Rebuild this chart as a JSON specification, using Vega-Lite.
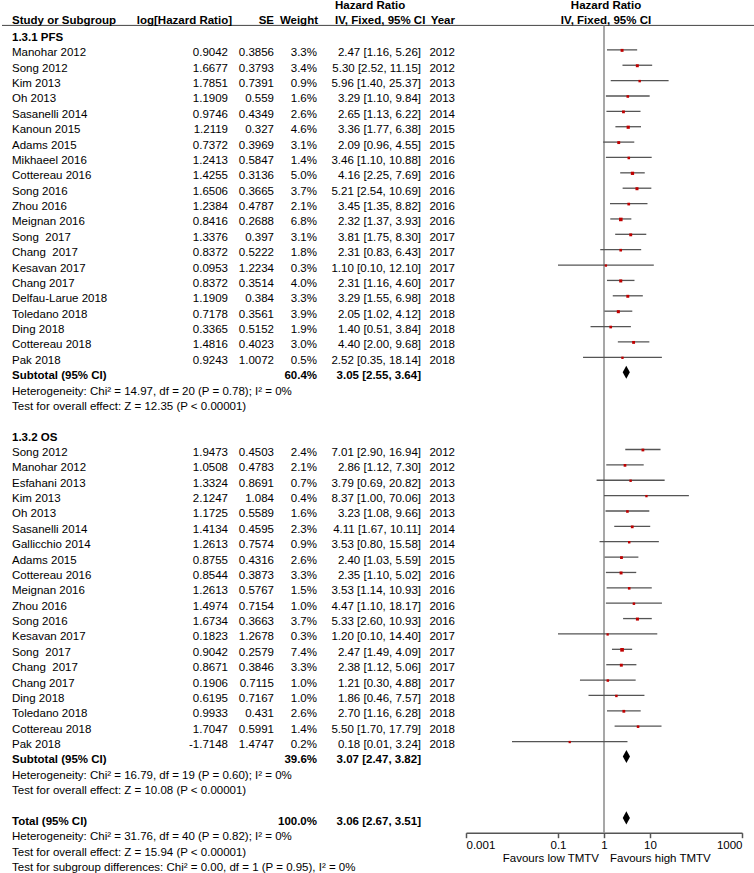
{
  "$schema": "https://vega.github.io/schema/vega-lite/v6.json",
  "width": 754,
  "height": 873,
  "autosize": {"type": "none"},
  "padding": 0,
  "background": "white",
  "config": {
    "view": {"stroke": null},
    "axisY": {"disable": true},
    "text": {"font": "Liberation Sans", "fontSize": 11.5, "baseline": "middle", "color": "#000"}
  },
  "data": {"values": [{}]},
  "datasets": {
    "studies": [
      {"group": "PFS", "row": 1, "study": "Manohar 2012", "loghr": 0.9042, "se": 0.3856, "w": 0.033, "hr": 2.47, "lo": 1.16, "hi": 5.26, "ci": "2.47 [1.16, 5.26]", "year": "2012"},
      {"group": "PFS", "row": 2, "study": "Song 2012", "loghr": 1.6677, "se": 0.3793, "w": 0.034, "hr": 5.30, "lo": 2.52, "hi": 11.15, "ci": "5.30 [2.52, 11.15]", "year": "2012"},
      {"group": "PFS", "row": 3, "study": "Kim 2013", "loghr": 1.7851, "se": 0.7391, "w": 0.009, "hr": 5.96, "lo": 1.40, "hi": 25.37, "ci": "5.96 [1.40, 25.37]", "year": "2013"},
      {"group": "PFS", "row": 4, "study": "Oh 2013", "loghr": 1.1909, "se": 0.559, "w": 0.016, "hr": 3.29, "lo": 1.10, "hi": 9.84, "ci": "3.29 [1.10, 9.84]", "year": "2013"},
      {"group": "PFS", "row": 5, "study": "Sasanelli 2014", "loghr": 0.9746, "se": 0.4349, "w": 0.026, "hr": 2.65, "lo": 1.13, "hi": 6.22, "ci": "2.65 [1.13, 6.22]", "year": "2014"},
      {"group": "PFS", "row": 6, "study": "Kanoun 2015", "loghr": 1.2119, "se": 0.327, "w": 0.046, "hr": 3.36, "lo": 1.77, "hi": 6.38, "ci": "3.36 [1.77, 6.38]", "year": "2015"},
      {"group": "PFS", "row": 7, "study": "Adams 2015", "loghr": 0.7372, "se": 0.3969, "w": 0.031, "hr": 2.09, "lo": 0.96, "hi": 4.55, "ci": "2.09 [0.96, 4.55]", "year": "2015"},
      {"group": "PFS", "row": 8, "study": "Mikhaeel 2016", "loghr": 1.2413, "se": 0.5847, "w": 0.014, "hr": 3.46, "lo": 1.10, "hi": 10.88, "ci": "3.46 [1.10, 10.88]", "year": "2016"},
      {"group": "PFS", "row": 9, "study": "Cottereau 2016", "loghr": 1.4255, "se": 0.3136, "w": 0.050, "hr": 4.16, "lo": 2.25, "hi": 7.69, "ci": "4.16 [2.25, 7.69]", "year": "2016"},
      {"group": "PFS", "row": 10, "study": "Song 2016", "loghr": 1.6506, "se": 0.3665, "w": 0.037, "hr": 5.21, "lo": 2.54, "hi": 10.69, "ci": "5.21 [2.54, 10.69]", "year": "2016"},
      {"group": "PFS", "row": 11, "study": "Zhou 2016", "loghr": 1.2384, "se": 0.4787, "w": 0.021, "hr": 3.45, "lo": 1.35, "hi": 8.82, "ci": "3.45 [1.35, 8.82]", "year": "2016"},
      {"group": "PFS", "row": 12, "study": "Meignan 2016", "loghr": 0.8416, "se": 0.2688, "w": 0.068, "hr": 2.32, "lo": 1.37, "hi": 3.93, "ci": "2.32 [1.37, 3.93]", "year": "2016"},
      {"group": "PFS", "row": 13, "study": "Song\u00a0 2017", "loghr": 1.3376, "se": 0.397, "w": 0.031, "hr": 3.81, "lo": 1.75, "hi": 8.30, "ci": "3.81 [1.75, 8.30]", "year": "2017"},
      {"group": "PFS", "row": 14, "study": "Chang\u00a0 2017", "loghr": 0.8372, "se": 0.5222, "w": 0.018, "hr": 2.31, "lo": 0.83, "hi": 6.43, "ci": "2.31 [0.83, 6.43]", "year": "2017"},
      {"group": "PFS", "row": 15, "study": "Kesavan 2017", "loghr": 0.0953, "se": 1.2234, "w": 0.003, "hr": 1.10, "lo": 0.10, "hi": 12.10, "ci": "1.10 [0.10, 12.10]", "year": "2017"},
      {"group": "PFS", "row": 16, "study": "Chang 2017", "loghr": 0.8372, "se": 0.3514, "w": 0.040, "hr": 2.31, "lo": 1.16, "hi": 4.60, "ci": "2.31 [1.16, 4.60]", "year": "2017"},
      {"group": "PFS", "row": 17, "study": "Delfau-Larue 2018", "loghr": 1.1909, "se": 0.384, "w": 0.033, "hr": 3.29, "lo": 1.55, "hi": 6.98, "ci": "3.29 [1.55, 6.98]", "year": "2018"},
      {"group": "PFS", "row": 18, "study": "Toledano 2018", "loghr": 0.7178, "se": 0.3561, "w": 0.039, "hr": 2.05, "lo": 1.02, "hi": 4.12, "ci": "2.05 [1.02, 4.12]", "year": "2018"},
      {"group": "PFS", "row": 19, "study": "Ding 2018", "loghr": 0.3365, "se": 0.5152, "w": 0.019, "hr": 1.40, "lo": 0.51, "hi": 3.84, "ci": "1.40 [0.51, 3.84]", "year": "2018"},
      {"group": "PFS", "row": 20, "study": "Cottereau 2018", "loghr": 1.4816, "se": 0.4023, "w": 0.030, "hr": 4.40, "lo": 2.00, "hi": 9.68, "ci": "4.40 [2.00, 9.68]", "year": "2018"},
      {"group": "PFS", "row": 21, "study": "Pak 2018", "loghr": 0.9243, "se": 1.0072, "w": 0.005, "hr": 2.52, "lo": 0.35, "hi": 18.14, "ci": "2.52 [0.35, 18.14]", "year": "2018"},
      {"group": "OS", "row": 27, "study": "Song 2012", "loghr": 1.9473, "se": 0.4503, "w": 0.024, "hr": 7.01, "lo": 2.90, "hi": 16.94, "ci": "7.01 [2.90, 16.94]", "year": "2012"},
      {"group": "OS", "row": 28, "study": "Manohar 2012", "loghr": 1.0508, "se": 0.4783, "w": 0.021, "hr": 2.86, "lo": 1.12, "hi": 7.30, "ci": "2.86 [1.12, 7.30]", "year": "2012"},
      {"group": "OS", "row": 29, "study": "Esfahani 2013", "loghr": 1.3324, "se": 0.8691, "w": 0.007, "hr": 3.79, "lo": 0.69, "hi": 20.82, "ci": "3.79 [0.69, 20.82]", "year": "2013"},
      {"group": "OS", "row": 30, "study": "Kim 2013", "loghr": 2.1247, "se": 1.084, "w": 0.004, "hr": 8.37, "lo": 1.00, "hi": 70.06, "ci": "8.37 [1.00, 70.06]", "year": "2013"},
      {"group": "OS", "row": 31, "study": "Oh 2013", "loghr": 1.1725, "se": 0.5589, "w": 0.016, "hr": 3.23, "lo": 1.08, "hi": 9.66, "ci": "3.23 [1.08, 9.66]", "year": "2013"},
      {"group": "OS", "row": 32, "study": "Sasanelli 2014", "loghr": 1.4134, "se": 0.4595, "w": 0.023, "hr": 4.11, "lo": 1.67, "hi": 10.11, "ci": "4.11 [1.67, 10.11]", "year": "2014"},
      {"group": "OS", "row": 33, "study": "Gallicchio 2014", "loghr": 1.2613, "se": 0.7574, "w": 0.009, "hr": 3.53, "lo": 0.80, "hi": 15.58, "ci": "3.53 [0.80, 15.58]", "year": "2014"},
      {"group": "OS", "row": 34, "study": "Adams 2015", "loghr": 0.8755, "se": 0.4316, "w": 0.026, "hr": 2.40, "lo": 1.03, "hi": 5.59, "ci": "2.40 [1.03, 5.59]", "year": "2015"},
      {"group": "OS", "row": 35, "study": "Cottereau 2016", "loghr": 0.8544, "se": 0.3873, "w": 0.033, "hr": 2.35, "lo": 1.10, "hi": 5.02, "ci": "2.35 [1.10, 5.02]", "year": "2016"},
      {"group": "OS", "row": 36, "study": "Meignan 2016", "loghr": 1.2613, "se": 0.5767, "w": 0.015, "hr": 3.53, "lo": 1.14, "hi": 10.93, "ci": "3.53 [1.14, 10.93]", "year": "2016"},
      {"group": "OS", "row": 37, "study": "Zhou 2016", "loghr": 1.4974, "se": 0.7154, "w": 0.010, "hr": 4.47, "lo": 1.10, "hi": 18.17, "ci": "4.47 [1.10, 18.17]", "year": "2016"},
      {"group": "OS", "row": 38, "study": "Song 2016", "loghr": 1.6734, "se": 0.3663, "w": 0.037, "hr": 5.33, "lo": 2.60, "hi": 10.93, "ci": "5.33 [2.60, 10.93]", "year": "2016"},
      {"group": "OS", "row": 39, "study": "Kesavan 2017", "loghr": 0.1823, "se": 1.2678, "w": 0.003, "hr": 1.20, "lo": 0.10, "hi": 14.40, "ci": "1.20 [0.10, 14.40]", "year": "2017"},
      {"group": "OS", "row": 40, "study": "Song\u00a0 2017", "loghr": 0.9042, "se": 0.2579, "w": 0.074, "hr": 2.47, "lo": 1.49, "hi": 4.09, "ci": "2.47 [1.49, 4.09]", "year": "2017"},
      {"group": "OS", "row": 41, "study": "Chang\u00a0 2017", "loghr": 0.8671, "se": 0.3846, "w": 0.033, "hr": 2.38, "lo": 1.12, "hi": 5.06, "ci": "2.38 [1.12, 5.06]", "year": "2017"},
      {"group": "OS", "row": 42, "study": "Chang 2017", "loghr": 0.1906, "se": 0.7115, "w": 0.010, "hr": 1.21, "lo": 0.30, "hi": 4.88, "ci": "1.21 [0.30, 4.88]", "year": "2017"},
      {"group": "OS", "row": 43, "study": "Ding 2018", "loghr": 0.6195, "se": 0.7167, "w": 0.010, "hr": 1.86, "lo": 0.46, "hi": 7.57, "ci": "1.86 [0.46, 7.57]", "year": "2018"},
      {"group": "OS", "row": 44, "study": "Toledano 2018", "loghr": 0.9933, "se": 0.431, "w": 0.026, "hr": 2.70, "lo": 1.16, "hi": 6.28, "ci": "2.70 [1.16, 6.28]", "year": "2018"},
      {"group": "OS", "row": 45, "study": "Cottereau 2018", "loghr": 1.7047, "se": 0.5991, "w": 0.014, "hr": 5.50, "lo": 1.70, "hi": 17.79, "ci": "5.50 [1.70, 17.79]", "year": "2018"},
      {"group": "OS", "row": 46, "study": "Pak 2018", "loghr": -1.7148, "se": 1.4747, "w": 0.002, "hr": 0.18, "lo": 0.01, "hi": 3.24, "ci": "0.18 [0.01, 3.24]", "year": "2018"}
    ],
    "totals": [
      {"row": 22, "label": "Subtotal (95% CI)", "w": 0.604, "hr": 3.05, "lo": 2.55, "hi": 3.64, "ci": "3.05 [2.55, 3.64]"},
      {"row": 47, "label": "Subtotal (95% CI)", "w": 0.396, "hr": 3.07, "lo": 2.47, "hi": 3.82, "ci": "3.07 [2.47, 3.82]"},
      {"row": 51, "label": "Total (95% CI)", "w": 1.0, "hr": 3.06, "lo": 2.67, "hi": 3.51, "ci": "3.06 [2.67, 3.51]"}
    ],
    "headings": [
      {"row": 0, "text": "1.3.1 PFS"},
      {"row": 26, "text": "1.3.2 OS"}
    ],
    "notes": [
      {"row": 23, "text": "Heterogeneity: Chi² = 14.97, df = 20 (P = 0.78); I² = 0%"},
      {"row": 24, "text": "Test for overall effect: Z = 12.35 (P < 0.00001)"},
      {"row": 48, "text": "Heterogeneity: Chi² = 16.79, df = 19 (P = 0.60); I² = 0%"},
      {"row": 49, "text": "Test for overall effect: Z = 10.08 (P < 0.00001)"},
      {"row": 52, "text": "Heterogeneity: Chi² = 31.76, df = 40 (P = 0.82); I² = 0%"},
      {"row": 53, "text": "Test for overall effect: Z = 15.94 (P < 0.00001)"},
      {"row": 54, "text": "Test for subgroup differences: Chi² = 0.00, df = 1 (P = 0.95), I² = 0%"}
    ]
  },
  "layer": [
    {
      "mark": {"type": "rule", "color": "#444", "strokeWidth": 1},
      "encoding": {
        "x": {"value": 2},
        "x2": {"value": 754},
        "y": {"datum": -0.82, "type": "quantitative", "scale": {"domain": [0, 54], "range": [38, 868], "zero": false, "nice": false}}
      }
    },
    {
      "mark": {"type": "rule", "color": "#8a8a8a", "strokeWidth": 1.5},
      "encoding": {
        "x": {"datum": 1, "type": "quantitative", "title": null, "scale": {"type": "log", "domain": [0.001, 1000], "range": [466, 742]},
          "axis": {"values": [0.001, 0.1, 1, 10, 1000], "format": "~g", "offset": -40.3, "grid": false, "tickSize": 5, "labelPadding": 2, "domainColor": "#555", "tickColor": "#555", "domainWidth": 1.5, "tickWidth": 1.5, "labelFont": "Liberation Sans", "labelFontSize": 11.5, "labelColor": "#000", "labelFlush": true, "labelOverlap": false, "title": null}},
        "y": {"datum": -0.82, "type": "quantitative"},
        "y2": {"datum": 51.7}
      }
    },
    {
      "data": {"name": "studies"},
      "mark": {"type": "rule", "color": "#555", "strokeWidth": 1.3, "yOffset": -3.5},
      "encoding": {
        "x": {"field": "lo", "type": "quantitative", "title": null, "scale": {"type": "log", "domain": [0.001, 1000], "range": [466, 742]}},
        "x2": {"field": "hi"},
        "y": {"field": "row", "type": "quantitative"}
      }
    },
    {
      "data": {"name": "studies"},
      "mark": {"type": "square", "color": "#c00000", "opacity": 1, "yOffset": -3},
      "encoding": {
        "x": {"field": "hr", "type": "quantitative", "title": null, "scale": {"type": "log", "domain": [0.001, 1000], "range": [466, 742]}},
        "y": {"field": "row", "type": "quantitative"},
        "size": {"field": "w", "type": "quantitative", "scale": {"domain": [0, 0.08], "range": [5, 14]}, "legend": null}
      }
    },
    {
      "data": {"name": "totals"},
      "mark": {"type": "point", "shape": "M0,-1L0.55,0L0,1L-0.55,0Z", "size": 170, "filled": true, "color": "#000", "opacity": 1, "yOffset": -4},
      "encoding": {
        "x": {"field": "hr", "type": "quantitative", "title": null, "scale": {"type": "log", "domain": [0.001, 1000], "range": [466, 742]}},
        "y": {"field": "row", "type": "quantitative"}
      }
    },
    {
      "data": {"name": "studies"},
      "mark": {"type": "text", "align": "left"},
      "encoding": {"x": {"value": 12}, "y": {"field": "row", "type": "quantitative"}, "text": {"field": "study", "type": "nominal"}}
    },
    {
      "data": {"name": "studies"},
      "mark": {"type": "text", "align": "right"},
      "encoding": {"x": {"value": 228}, "y": {"field": "row", "type": "quantitative"}, "text": {"field": "loghr", "type": "nominal"}}
    },
    {
      "data": {"name": "studies"},
      "mark": {"type": "text", "align": "right"},
      "encoding": {"x": {"value": 274}, "y": {"field": "row", "type": "quantitative"}, "text": {"field": "se", "type": "nominal"}}
    },
    {
      "data": {"name": "studies"},
      "mark": {"type": "text", "align": "right"},
      "encoding": {"x": {"value": 317}, "y": {"field": "row", "type": "quantitative"}, "text": {"field": "w", "type": "quantitative", "format": ".1%"}}
    },
    {
      "data": {"name": "studies"},
      "mark": {"type": "text", "align": "right"},
      "encoding": {"x": {"value": 421}, "y": {"field": "row", "type": "quantitative"}, "text": {"field": "ci", "type": "nominal"}}
    },
    {
      "data": {"name": "studies"},
      "mark": {"type": "text", "align": "right"},
      "encoding": {"x": {"value": 455}, "y": {"field": "row", "type": "quantitative"}, "text": {"field": "year", "type": "nominal"}}
    },
    {
      "data": {"name": "totals"},
      "mark": {"type": "text", "align": "left", "fontWeight": "bold"},
      "encoding": {"x": {"value": 12}, "y": {"field": "row", "type": "quantitative"}, "text": {"field": "label", "type": "nominal"}}
    },
    {
      "data": {"name": "totals"},
      "mark": {"type": "text", "align": "right", "fontWeight": "bold"},
      "encoding": {"x": {"value": 317}, "y": {"field": "row", "type": "quantitative"}, "text": {"field": "w", "type": "quantitative", "format": ".1%"}}
    },
    {
      "data": {"name": "totals"},
      "mark": {"type": "text", "align": "right", "fontWeight": "bold"},
      "encoding": {"x": {"value": 421}, "y": {"field": "row", "type": "quantitative"}, "text": {"field": "ci", "type": "nominal"}}
    },
    {
      "data": {"name": "headings"},
      "mark": {"type": "text", "align": "left", "fontWeight": "bold"},
      "encoding": {"x": {"value": 12}, "y": {"field": "row", "type": "quantitative"}, "text": {"field": "text", "type": "nominal"}}
    },
    {
      "data": {"name": "notes"},
      "mark": {"type": "text", "align": "left"},
      "encoding": {"x": {"value": 12}, "y": {"field": "row", "type": "quantitative"}, "text": {"field": "text", "type": "nominal"}}
    },
    {
      "data": {"values": [{"text": "Study or Subgroup"}]},
      "mark": {"type": "text", "align": "left", "fontWeight": "bold"},
      "encoding": {"x": {"value": 12}, "y": {"datum": -1.1, "type": "quantitative"}, "text": {"field": "text", "type": "nominal"}}
    },
    {
      "data": {"values": [{"text": "log[Hazard Ratio]"}]},
      "mark": {"type": "text", "align": "right", "fontWeight": "bold"},
      "encoding": {"x": {"value": 232}, "y": {"datum": -1.1, "type": "quantitative"}, "text": {"field": "text", "type": "nominal"}}
    },
    {
      "data": {"values": [{"text": "SE"}]},
      "mark": {"type": "text", "align": "right", "fontWeight": "bold"},
      "encoding": {"x": {"value": 274}, "y": {"datum": -1.1, "type": "quantitative"}, "text": {"field": "text", "type": "nominal"}}
    },
    {
      "data": {"values": [{"text": "Weight"}]},
      "mark": {"type": "text", "align": "right", "fontWeight": "bold"},
      "encoding": {"x": {"value": 318}, "y": {"datum": -1.1, "type": "quantitative"}, "text": {"field": "text", "type": "nominal"}}
    },
    {
      "data": {"values": [{"text": "Hazard Ratio", "r": -2.08}, {"text": "IV, Fixed, 95% CI", "r": -1.1}]},
      "mark": {"type": "text", "align": "left", "fontWeight": "bold"},
      "encoding": {"x": {"value": 335}, "y": {"field": "r", "type": "quantitative"}, "text": {"field": "text", "type": "nominal"}}
    },
    {
      "data": {"values": [{"text": "Year"}]},
      "mark": {"type": "text", "align": "right", "fontWeight": "bold"},
      "encoding": {"x": {"value": 455}, "y": {"datum": -1.1, "type": "quantitative"}, "text": {"field": "text", "type": "nominal"}}
    },
    {
      "data": {"values": [{"text": "Hazard Ratio", "r": -2.08}, {"text": "IV, Fixed, 95% CI", "r": -1.1}]},
      "mark": {"type": "text", "align": "center", "fontWeight": "bold", "dx": 2},
      "encoding": {
        "x": {"datum": 1, "type": "quantitative", "title": null, "scale": {"type": "log", "domain": [0.001, 1000], "range": [466, 742]}},
        "y": {"field": "r", "type": "quantitative"},
        "text": {"field": "text", "type": "nominal"}
      }
    },
    {
      "data": {"values": [{"text": "Favours low TMTV"}]},
      "mark": {"type": "text", "align": "right", "dx": -5},
      "encoding": {
        "x": {"datum": 1, "type": "quantitative", "title": null, "scale": {"type": "log", "domain": [0.001, 1000], "range": [466, 742]}},
        "y": {"datum": 53.4, "type": "quantitative"},
        "text": {"field": "text", "type": "nominal"}
      }
    },
    {
      "data": {"values": [{"text": "Favours high TMTV"}]},
      "mark": {"type": "text", "align": "left", "dx": 6},
      "encoding": {
        "x": {"datum": 1, "type": "quantitative", "title": null, "scale": {"type": "log", "domain": [0.001, 1000], "range": [466, 742]}},
        "y": {"datum": 53.4, "type": "quantitative"},
        "text": {"field": "text", "type": "nominal"}
      }
    }
  ]
}
